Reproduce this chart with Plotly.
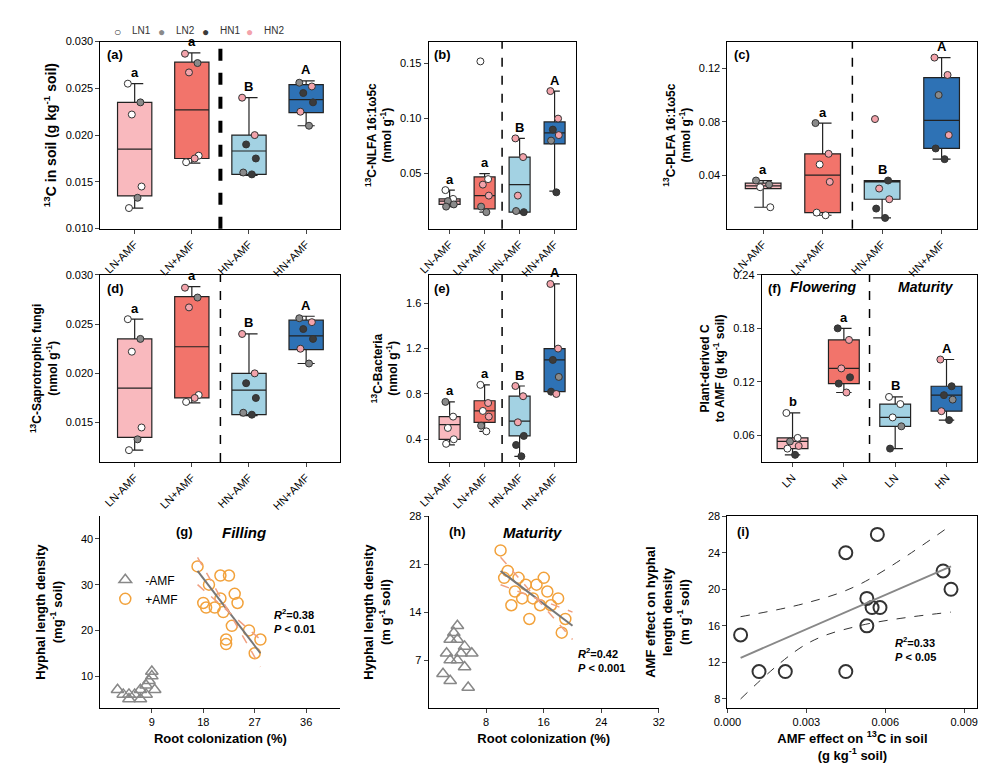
import plotly.graph_objects as go

W, H = 990, 776
cats4 = ["LN-AMF", "LN+AMF", "HN-AMF", "HN+AMF"]
catsf = ["LN", "HN", "LN", "HN"]
box_fill = ["#f9b9be", "#f2746b", "#a3d2e3", "#2e72b5"]
dot_col = {"LN1": "#ffffff", "LN2": "#8a8a8a", "HN1": "#3b3b3b", "HN2": "#f3a3ab"}

# box stats: q1, median, q3, low whisker, high whisker
a_stats = [[0.0135, 0.0185, 0.0235, 0.0122, 0.0255], [0.0175, 0.0227, 0.0278, 0.0170, 0.0288],
           [0.0158, 0.0183, 0.0200, 0.0157, 0.0240], [0.0224, 0.0238, 0.0254, 0.0210, 0.0258]]
a_pts = [[(0.0255, "LN1"), (0.0235, "LN2"), (0.0222, "LN1"), (0.0145, "LN1"), (0.0122, "LN1"), (0.0133, "LN2")],
         [(0.0287, "HN2"), (0.0277, "LN2"), (0.0267, "HN2"), (0.0178, "LN1"), (0.0171, "LN1"), (0.0175, "HN2")],
         [(0.0240, "HN2"), (0.0200, "HN2"), (0.0190, "HN1"), (0.0175, "HN1"), (0.0160, "LN2"), (0.0158, "HN1")],
         [(0.0256, "LN2"), (0.0252, "HN2"), (0.0245, "HN1"), (0.0235, "HN1"), (0.0225, "HN2"), (0.0210, "LN2")]]
b_stats = [[0.022, 0.025, 0.027, 0.020, 0.035], [0.018, 0.030, 0.047, 0.015, 0.050],
           [0.015, 0.040, 0.065, 0.014, 0.082], [0.077, 0.087, 0.097, 0.034, 0.125]]
b_pts = [[(0.035, "LN1"), (0.027, "LN1"), (0.025, "LN2"), (0.022, "LN2"), (0.020, "LN2")],
         [(0.152, "LN1"), (0.045, "LN1"), (0.040, "HN2"), (0.030, "HN2"), (0.020, "LN2"), (0.015, "LN2")],
         [(0.082, "HN2"), (0.065, "HN2"), (0.030, "HN2"), (0.015, "HN1"), (0.016, "LN2")],
         [(0.125, "HN2"), (0.100, "HN2"), (0.090, "HN1"), (0.085, "HN2"), (0.080, "LN2"), (0.033, "HN1")]]
c_stats = [[0.030, 0.032, 0.034, 0.016, 0.036], [0.012, 0.040, 0.056, 0.010, 0.079],
           [0.022, 0.035, 0.036, 0.008, 0.036], [0.060, 0.081, 0.113, 0.052, 0.128]]
c_pts = [[(0.036, "LN2"), (0.033, "LN2"), (0.031, "LN1"), (0.016, "LN1")],
         [(0.079, "LN2"), (0.056, "HN2"), (0.048, "LN1"), (0.035, "HN2"), (0.012, "LN1"), (0.010, "LN1")],
         [(0.082, "HN2"), (0.036, "HN1"), (0.030, "HN2"), (0.022, "HN2"), (0.015, "HN1"), (0.008, "HN1")],
         [(0.128, "HN2"), (0.115, "HN2"), (0.100, "LN2"), (0.070, "HN2"), (0.060, "HN1"), (0.052, "HN1")]]
d_stats = a_stats
d_pts = a_pts
e_stats = [[0.40, 0.53, 0.60, 0.35, 0.73], [0.55, 0.65, 0.74, 0.47, 0.88],
           [0.43, 0.56, 0.78, 0.25, 0.87], [0.82, 1.10, 1.20, 0.80, 1.77]]
e_pts = [[(0.73, "LN2"), (0.60, "LN1"), (0.50, "LN1"), (0.40, "LN1"), (0.36, "LN1")],
         [(0.88, "LN1"), (0.72, "HN2"), (0.65, "LN1"), (0.60, "HN2"), (0.52, "LN2"), (0.47, "LN1")],
         [(0.87, "HN2"), (0.78, "HN2"), (0.55, "HN2"), (0.43, "HN1"), (0.35, "HN1"), (0.25, "HN1")],
         [(1.77, "HN2"), (1.20, "HN2"), (1.10, "HN1"), (0.95, "LN2"), (0.82, "HN1"), (0.80, "HN2")]]
f_stats = [[0.045, 0.053, 0.057, 0.038, 0.085], [0.118, 0.135, 0.167, 0.108, 0.180],
           [0.070, 0.080, 0.095, 0.045, 0.103], [0.087, 0.105, 0.115, 0.077, 0.145]]
f_pts = [[(0.085, "LN1"), (0.057, "LN1"), (0.053, "LN2"), (0.048, "HN2"), (0.045, "LN1"), (0.038, "HN1")],
         [(0.180, "HN1"), (0.167, "HN2"), (0.135, "HN2"), (0.125, "HN1"), (0.118, "HN1"), (0.108, "HN2")],
         [(0.103, "LN1"), (0.095, "LN1"), (0.080, "LN1"), (0.070, "LN2"), (0.045, "HN1")],
         [(0.145, "HN2"), (0.115, "HN1"), (0.105, "HN1"), (0.100, "LN2"), (0.087, "HN2"), (0.077, "HN1")]]
jit = [-0.12, 0.1, -0.05, 0.12, -0.1, 0.05]

g_minus_x = [3, 4, 5, 6, 7, 8, 8.5, 9, 9, 9.5, 5, 7, 8]
g_minus_y = [7, 6, 5, 6, 7, 8, 9, 10, 11, 7, 6, 5, 6]
g_plus_x = [17, 18, 18.5, 19, 20, 21, 21.5, 22, 22, 22.5, 23, 23.5, 24, 26, 27, 28, 21]
g_plus_y = [34, 26, 25, 30, 25, 32, 24, 17, 18, 32, 21, 28, 26, 20, 15, 18, 27]
g_fit = [(17, 33), (28, 15)]
h_minus_x = [2, 2.5, 3, 3, 3.5, 4, 4, 4.5, 5, 5, 5.5, 6, 4, 3]
h_minus_y = [5, 8, 10, 4, 11, 12, 7, 8, 6, 9, 3, 8, 10, 7]
h_plus_x = [10, 10.5, 11, 11.5, 12, 12.5, 13, 13.5, 14, 14.5, 15, 15.5, 16, 16.5, 17, 18, 18.5, 19]
h_plus_y = [23, 19, 20, 15, 17, 19, 16, 18, 13, 16, 18, 15, 19, 17, 15, 16, 11, 13]
h_fit = [(10, 20), (20, 12)]
i_x = [0.0005, 0.0012, 0.0022, 0.0045, 0.0045, 0.0053, 0.0053, 0.0055, 0.0057, 0.0058, 0.0082, 0.0085]
i_y = [15, 11, 11, 24, 11, 19, 16, 18, 26, 18, 22, 20]
i_fit = [(0.0005, 12.5), (0.0085, 22.5)]

fig = go.Figure()
font = "Arial, Liberation Sans"

def dom(x0, x1, y0, y1):
    return [x0 / W, x1 / W], [1 - y1 / H, 1 - y0 / H]

def add_axes(n, px, py, **kw):
    xd, yd = dom(*px, *py)
    xa = "xaxis" if n == 1 else f"xaxis{n}"
    ya = "yaxis" if n == 1 else f"yaxis{n}"
    base = dict(showline=True, linecolor="black", linewidth=1, ticks="outside", ticklen=4,
                showgrid=False, zeroline=False, tickfont=dict(size=11, color="black"))
    fig.update_layout({xa: dict(domain=xd, anchor=f"y{n}", **base, **kw.get("x", {})),
                       ya: dict(domain=yd, anchor=f"x{n}", **base, **kw.get("y", {}))})

def box_panel(n, stats, pts, letters, label, dashw=1.5):
    xr = f"x{n}" if n > 1 else "x"
    yr = f"y{n}" if n > 1 else "y"
    for i, s in enumerate(stats):
        fig.add_trace(go.Box(x=[i], q1=[s[0]], median=[s[1]], q3=[s[2]], lowerfence=[s[3]], upperfence=[s[4]],
                             fillcolor=box_fill[i], line=dict(color="#222", width=1.2), width=0.6,
                             xaxis=xr, yaxis=yr, showlegend=False, boxpoints=False))
        for k, (v, c) in enumerate(pts[i]):
            fig.add_trace(go.Scatter(x=[i + jit[k % 6]], y=[v], mode="markers", xaxis=xr, yaxis=yr,
                                     marker=dict(color=dot_col[c], size=7, line=dict(color="#333", width=1)),
                                     showlegend=False))
        fig.add_annotation(x=i, y=s[4], yshift=11, text=f"<b>{letters[i]}</b>", showarrow=False, xref=xr, yref=yr,
                           font=dict(size=13, color="black"))
    fig.add_shape(type="line", x0=1.5, x1=1.5, y0=0, y1=1, xref=xr, yref=f"{yr} domain",
                  line=dict(color="black", width=dashw, dash="dash"))
    fig.add_annotation(x=0.02, y=0.98, xref=f"{xr} domain", yref=f"{yr} domain", text=f"<b>{label}</b>",
                       showarrow=False, xanchor="left", yanchor="top", font=dict(size=13, color="black"))

xcat = lambda cats, ang: dict(range=[-0.6, 3.6], tickvals=[0, 1, 2, 3], ticktext=cats, tickangle=ang, mirror=True)

add_axes(1, (80, 325), (28, 218), x=xcat(cats4, -45),
         y=dict(range=[0.010, 0.030], tickvals=[0.010, 0.015, 0.020, 0.025, 0.030], tickformat=".3f", mirror=True,
                title=dict(text="<b><sup>13</sup>C in soil (g kg<sup>-1</sup> soil)</b>", font=dict(size=14), standoff=5)))
box_panel(1, a_stats, a_pts, ["a", "a", "B", "A"], "(a)", dashw=4)
add_axes(2, (415, 565), (28, 218), x=xcat(cats4, -45),
         y=dict(range=[0.0, 0.17], tickvals=[0.05, 0.10, 0.15], tickformat=".2f", mirror=True,
                title=dict(text="<b><sup>13</sup>C-NLFA 16:1ω5c<br>(nmol g<sup>-1</sup>)</b>", font=dict(size=12), standoff=5)))
box_panel(2, b_stats, b_pts, ["a", "a", "B", "A"], "(b)")
add_axes(3, (720, 975), (28, 218), x=xcat(cats4, -45),
         y=dict(range=[0.0, 0.14], tickvals=[0.04, 0.08, 0.12], tickformat=".2f", mirror=True,
                title=dict(text="<b><sup>13</sup>C-PLFA 16:1ω5c<br>(nmol g<sup>-1</sup>)</b>", font=dict(size=12), standoff=5)))
box_panel(3, c_stats, c_pts, ["a", "a", "B", "A"], "(c)")
add_axes(4, (80, 325), (265, 455), x=xcat(cats4, -45),
         y=dict(range=[0.011, 0.030], tickvals=[0.015, 0.020, 0.025, 0.030], tickformat=".3f", mirror=True,
                title=dict(text="<b><sup>13</sup>C-Saprotrophic fungi<br>(nmol g<sup>-1</sup>)</b>", font=dict(size=12), standoff=5)))
box_panel(4, d_stats, d_pts, ["a", "a", "B", "A"], "(d)")
add_axes(5, (415, 565), (265, 455), x=xcat(cats4, -45),
         y=dict(range=[0.2, 1.85], tickvals=[0.4, 0.8, 1.2, 1.6], tickformat=".1f", mirror=True,
                title=dict(text="<b><sup>13</sup>C-Bacteria<br>(nmol g<sup>-1</sup>)</b>", font=dict(size=12), standoff=5)))
box_panel(5, e_stats, e_pts, ["a", "a", "B", "A"], "(e)")
add_axes(6, (755, 975), (265, 455), x=xcat(catsf, -45),
         y=dict(range=[0.03, 0.24], tickvals=[0.06, 0.12, 0.18, 0.24], tickformat=".2f", mirror=True,
                title=dict(text="<b>Plant-derived C<br>to AMF (g kg<sup>-1</sup> soil)</b>", font=dict(size=12), standoff=5)))
box_panel(6, f_stats, f_pts, ["b", "a", "B", "A"], "(f)")
fig.add_annotation(x=0.6, y=0.226, xref="x6", yref="y6", text="<b><i>Flowering</i></b>", showarrow=False, font=dict(size=14))
fig.add_annotation(x=2.6, y=0.226, xref="x6", yref="y6", text="<b><i>Maturity</i></b>", showarrow=False, font=dict(size=14))

# legend row
for k, (nm, c) in enumerate(dot_col.items()):
    fig.add_annotation(x=(92 + 45 * k) / W, y=1 - 9 / H, xref="paper", yref="paper",
                       text="○" if c == "#ffffff" else "●", showarrow=False,
                       font=dict(size=12, color="#333" if c == "#ffffff" else c))
    fig.add_annotation(x=(110 + 45 * k) / W, y=1 - 9 / H, xref="paper", yref="paper", text=nm, showarrow=False,
                       font=dict(size=10, color="#333"))

orange = "#f2a23c"
add_axes(7, (80, 325), (510, 705), x=dict(range=[0, 42], tickvals=[9, 18, 27, 36],
         title=dict(text="<b>Root colonization (%)</b>", font=dict(size=13), standoff=6)),
         y=dict(range=[3, 45], tickvals=[10, 20, 30, 40],
                title=dict(text="<b>Hyphal length density<br>(mg<sup>-1</sup> soil)</b>", font=dict(size=13))))
fig.add_trace(go.Scatter(x=g_minus_x, y=g_minus_y, mode="markers", name="-AMF", xaxis="x7", yaxis="y7",
                         marker=dict(symbol="triangle-up-open", size=11, color="#888", line=dict(width=1.5))))
fig.add_trace(go.Scatter(x=g_plus_x, y=g_plus_y, mode="markers", name="+AMF", xaxis="x7", yaxis="y7",
                         marker=dict(symbol="circle-open", size=11, color=orange, line=dict(width=1.5))))
fig.add_trace(go.Scatter(x=[p[0] for p in g_fit], y=[p[1] for p in g_fit], mode="lines", xaxis="x7", yaxis="y7",
                         line=dict(color="#777", width=2), showlegend=False))
for off in (-3, 3):
    fig.add_trace(go.Scatter(x=[17, 28], y=[33 + off, 15 - off], mode="lines", xaxis="x7", yaxis="y7",
                             line=dict(color="#f0a080", width=1.5, dash="dash"), showlegend=False))
fig.add_annotation(x=0.35, y=0.97, xref="x7 domain", yref="y7 domain", text="<b>(g)</b>", showarrow=False, font=dict(size=13))
fig.add_annotation(x=0.6, y=0.97, xref="x7 domain", yref="y7 domain", text="<b><i>Filling</i></b>", showarrow=False, font=dict(size=15))
fig.add_annotation(x=30, y=22, xref="x7", yref="y7", text="<b><i>R</i><sup>2</sup>=0.38<br><i>P</i> < 0.01</b>",
                   showarrow=False, align="left", xanchor="left", font=dict(size=11))

add_axes(8, (415, 650), (510, 705), x=dict(range=[0, 32], tickvals=[8, 16, 24, 32],
         title=dict(text="<b>Root colonization (%)</b>", font=dict(size=13), standoff=6)),
         y=dict(range=[0, 28], tickvals=[7, 14, 21, 28],
                title=dict(text="<b>Hyphal length density<br>(m g<sup>-1</sup> soil)</b>", font=dict(size=13))))
fig.add_trace(go.Scatter(x=h_minus_x, y=h_minus_y, mode="markers", xaxis="x8", yaxis="y8", showlegend=False,
                         marker=dict(symbol="triangle-up-open", size=11, color="#888", line=dict(width=1.5))))
fig.add_trace(go.Scatter(x=h_plus_x, y=h_plus_y, mode="markers", xaxis="x8", yaxis="y8", showlegend=False,
                         marker=dict(symbol="circle-open", size=11, color=orange, line=dict(width=1.5))))
fig.add_trace(go.Scatter(x=[p[0] for p in h_fit], y=[p[1] for p in h_fit], mode="lines", xaxis="x8", yaxis="y8",
                         line=dict(color="#777", width=2), showlegend=False))
for off in (-2, 2):
    fig.add_trace(go.Scatter(x=[10, 20], y=[20 + off, 12 - off], mode="lines", xaxis="x8", yaxis="y8",
                             line=dict(color="#f0a080", width=1.5, dash="dash"), showlegend=False))
fig.add_annotation(x=0.08, y=0.97, xref="x8 domain", yref="y8 domain", text="<b>(h)</b>", showarrow=False, font=dict(size=13))
fig.add_annotation(x=0.45, y=0.97, xref="x8 domain", yref="y8 domain", text="<b><i>Maturity</i></b>", showarrow=False, font=dict(size=15))
fig.add_annotation(x=20.5, y=7, xref="x8", yref="y8", text="<b><i>R</i><sup>2</sup>=0.42<br><i>P</i> < 0.001</b>",
                   showarrow=False, align="left", xanchor="left", font=dict(size=11))

add_axes(9, (720, 975), (510, 705), x=dict(range=[0, 0.0095], tickvals=[0, 0.003, 0.006, 0.009], tickformat=".3f", mirror=True,
         title=dict(text="<b>AMF effect on <sup>13</sup>C in soil<br>(g kg<sup>-1</sup> soil)</b>", font=dict(size=13), standoff=6)),
         y=dict(range=[7, 28], tickvals=[8, 12, 16, 20, 24, 28], mirror=True,
                title=dict(text="<b>AMF effect on hyphal<br>length density<br>(m g<sup>-1</sup> soil)</b>", font=dict(size=13))))
fig.add_trace(go.Scatter(x=i_x, y=i_y, mode="markers", xaxis="x9", yaxis="y9", showlegend=False,
                         marker=dict(symbol="circle-open", size=13, color="#333", line=dict(width=2))))
fig.add_trace(go.Scatter(x=[p[0] for p in i_fit], y=[p[1] for p in i_fit], mode="lines", xaxis="x9", yaxis="y9",
                         line=dict(color="#888", width=2), showlegend=False))
fig.add_trace(go.Scatter(x=[0.0005, 0.003, 0.005, 0.0085], y=[17, 18.5, 20.5, 27], mode="lines", xaxis="x9", yaxis="y9",
                         line=dict(color="#333", width=1, dash="dash", shape="spline"), showlegend=False))
fig.add_trace(go.Scatter(x=[0.0005, 0.003, 0.005, 0.0085], y=[8, 14, 16, 17.5], mode="lines", xaxis="x9", yaxis="y9",
                         line=dict(color="#333", width=1, dash="dash", shape="spline"), showlegend=False))
fig.add_annotation(x=0.03, y=0.97, xref="x9 domain", yref="y9 domain", text="<b>(i)</b>", showarrow=False, xanchor="left", font=dict(size=13))
fig.add_annotation(x=0.0063, y=13.5, xref="x9", yref="y9", text="<b><i>R</i><sup>2</sup>=0.33<br><i>P</i> < 0.05</b>",
                   showarrow=False, align="left", xanchor="left", font=dict(size=11))

fig.update_layout(width=W, height=H, margin=dict(l=0, r=0, t=0, b=0), plot_bgcolor="white", paper_bgcolor="white",
                  font=dict(family=font, color="black"),
                  legend=dict(x=85 / W, y=1 - 560 / H, xanchor="left", yanchor="top", bgcolor="rgba(0,0,0,0)",
                              font=dict(size=12)))
fig.write_html("out.html")
